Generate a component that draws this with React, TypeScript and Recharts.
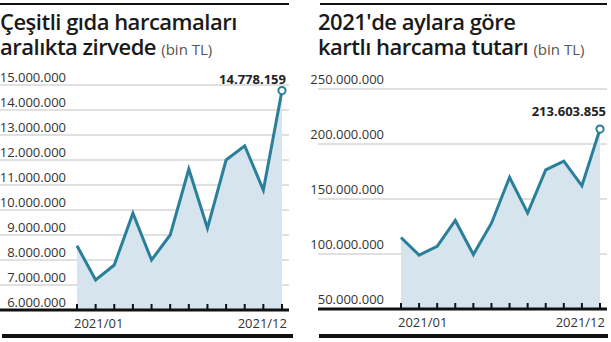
import { ComposedChart, Area, Line, XAxis, YAxis, CartesianGrid } from "recharts";

const months = [
  "2021/01", "2021/02", "2021/03", "2021/04", "2021/05", "2021/06",
  "2021/07", "2021/08", "2021/09", "2021/10", "2021/11", "2021/12",
];

// çeşitli gıda harcamaları (bin TL)
const gidaValues = [
  8570000, 7200000, 7800000, 9870000, 8000000, 9000000,
  11640000, 9270000, 12000000, 12570000, 10800000, 14778159,
];
const gidaTicks = [6000000, 7000000, 8000000, 9000000, 10000000, 11000000, 12000000, 13000000, 14000000, 15000000];

// kartlı harcama tutarı (bin TL)
const kartValues = [
  115000000, 99000000, 107000000, 130500000, 99500000, 128000000,
  169700000, 137300000, 176400000, 184500000, 162000000, 213603855,
];
const kartTicks = [50000000, 100000000, 150000000, 200000000, 250000000];

const LINE = "#2a7f9a";
const FILL = "#d6e4ee";
const FONT = "'Open Sans', sans-serif";

const fmt = (n: number) => String(Math.round(n)).replace(/\B(?=(\d{3})+(?!\d))/g, ".");

interface PanelProps {
  values: number[];
  ticks: number[];
  left: number;
  width: number;
  margin: { top: number; right: number; bottom: number; left: number };
  padLeft: number;
  padRight: number;
  yLabelX: number;
  yLabelGap: number;
  valDx: number;
  valDy: number;
}

function Panel(p: PanelProps) {
  const data = months.map((m, i) => ({ month: m, value: p.values[i] }));
  const last = data.length - 1;

  const yTick = (t: any) => (
    <text x={p.yLabelX} y={t.y - p.yLabelGap} textAnchor="end" fontSize={13} fontFamily={FONT} fill="#333">
      {fmt(t.payload.value)}
    </text>
  );

  const xTick = (t: any) => (
    <g>
      <line x1={t.x} x2={t.x} y1={t.y} y2={t.y - 6} stroke="#111" strokeWidth={2} />
      {t.index === 0 && (
        <text x={t.x - 3} y={t.y + 18} textAnchor="start" fontSize={13} fontFamily={FONT} fill="#333">
          {t.payload.value}
        </text>
      )}
      {t.index === last && (
        <text x={t.x + 5} y={t.y + 18} textAnchor="end" fontSize={13} fontFamily={FONT} fill="#333">
          {t.payload.value}
        </text>
      )}
    </g>
  );

  const dot = (d: any) => {
    if (d.index !== last) return <g key={d.index} />;
    return (
      <g key={d.index}>
        <circle cx={d.cx} cy={d.cy} r={3.6} fill="#fff" stroke={LINE} strokeWidth={2} />
        <text x={d.cx + p.valDx} y={d.cy - p.valDy} textAnchor="end" fontSize={13} fontWeight={700} fontFamily={FONT} fill="#222">
          {fmt(d.payload.value)}
        </text>
      </g>
    );
  };

  return (
    <div style={{ position: "absolute", left: p.left, top: 0 }}>
      <ComposedChart width={p.width} height={342} data={data} margin={p.margin}>
        <CartesianGrid vertical={false} stroke="#c2c2c2" />
        <YAxis
          type="number"
          domain={[p.ticks[0], p.ticks[p.ticks.length - 1]]}
          ticks={p.ticks}
          interval={0}
          width={1}
          axisLine={false}
          tickLine={false}
          tickSize={0}
          tick={yTick}
        />
        <Area
          dataKey="value"
          type="linear"
          baseValue="dataMin"
          fill={FILL}
          fillOpacity={1}
          stroke="none"
          isAnimationActive={false}
        />
        <Line
          dataKey="value"
          type="linear"
          stroke={LINE}
          strokeWidth={3}
          strokeLinejoin="miter"
          dot={dot}
          activeDot={false}
          isAnimationActive={false}
        />
        <XAxis
          dataKey="month"
          type="category"
          scale="point"
          padding={{ left: p.padLeft, right: p.padRight }}
          height={30}
          interval={0}
          axisLine={{ stroke: "#111", strokeWidth: 3 }}
          tickLine={false}
          tickSize={0}
          tickMargin={0}
          tick={xTick}
        />
      </ComposedChart>
    </div>
  );
}

const lineStyle: React.CSSProperties = {
  position: "absolute",
  height: 25,
  fontFamily: FONT,
  fontWeight: 600,
  fontSize: 22,
  lineHeight: "25px",
  color: "#1a1a1a",
  letterSpacing: -0.5,
  whiteSpace: "nowrap",
};

const unitStyle: React.CSSProperties = {
  fontWeight: 400,
  fontSize: 15,
  color: "#555",
  letterSpacing: 0,
};

export default function App() {
  return (
    <div style={{ position: "absolute", left: 0, top: 0, width: 611, height: 342, background: "#fff", overflow: "hidden" }}>
      <div style={{ position: "absolute", left: 0, top: 3, width: 289, height: 2, background: "#111" }} />
      <div style={{ position: "absolute", left: 320, top: 3, width: 287, height: 2, background: "#111" }} />

      <div style={{ ...lineStyle, left: 0, top: 9 }}>Çeşitli gıda harcamaları</div>
      <div style={{ ...lineStyle, left: 0, top: 34 }}>
        aralıkta zirvede <span style={unitStyle}>(bin TL)</span>
      </div>
      <div style={{ ...lineStyle, left: 318, top: 9 }}>2021'de aylara göre</div>
      <div style={{ ...lineStyle, left: 318, top: 34 }}>
        kartlı harcama tutarı <span style={unitStyle}>(bin TL)</span>
      </div>

      <Panel
        values={gidaValues}
        ticks={gidaTicks}
        left={-1}
        width={296}
        margin={{ top: 85, right: 6, bottom: 2, left: 0 }}
        padLeft={77}
        padRight={7}
        yLabelX={67}
        yLabelGap={3}
        valDx={4}
        valDy={7}
      />
      <Panel
        values={kartValues}
        ticks={kartTicks}
        left={305}
        width={306}
        margin={{ top: 89, right: 4, bottom: 3, left: 12 }}
        padLeft={83}
        padRight={7}
        yLabelX={79}
        yLabelGap={5}
        valDx={6}
        valDy={13}
      />

      <div style={{ position: "absolute", left: 2, top: 334, width: 291, height: 4, background: "#111" }} />
      <div style={{ position: "absolute", left: 319, top: 334, width: 289, height: 4, background: "#111" }} />
    </div>
  );
}
